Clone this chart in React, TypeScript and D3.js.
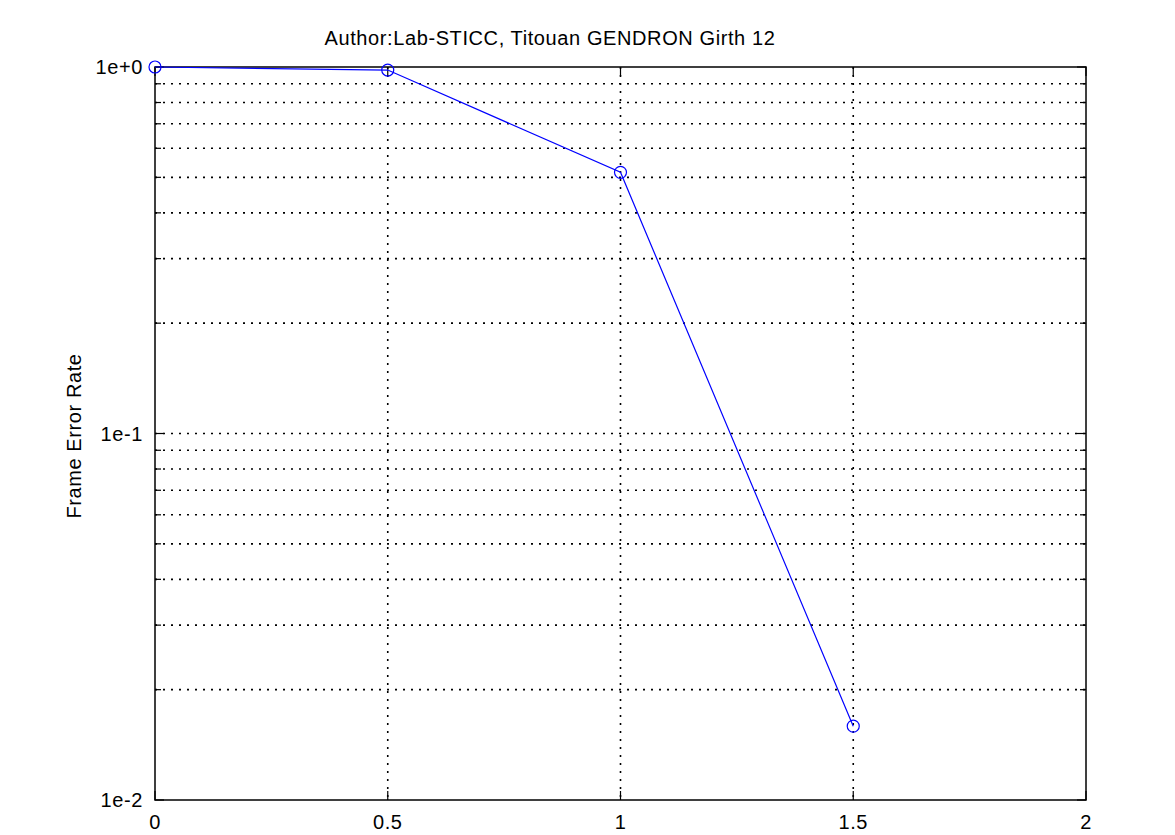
import React, { useEffect, useRef } from "react";
import * as d3 from "d3";

const snrValues = [0, 0.5, 1, 1.5];
const ferValues = [1.0, 0.981, 0.516, 0.0159];
const xTicks = [0, 0.5, 1, 1.5, 2];
const yMajorTicks = [1e-2, 1e-1, 1];
const yTickLabels = ["1e-2", "1e-1", "1e+0"];
const titleText = "Author:Lab-STICC, Titouan GENDRON Girth 12";
const yLabelText = "Frame Error Rate";

export default function App() {
  const ref = useRef<SVGSVGElement>(null);
  useEffect(() => {
    const svg = d3.select(ref.current);
    svg.selectAll("*").remove();
    const L = 155, R = 1086, T = 67, B = 800;
    const x = d3.scaleLinear().domain([0, 2]).range([L, R]);
    const y = d3.scaleLog().domain([1e-2, 1]).range([B, T]);
    const font = "Liberation Sans, Arial, sans-serif";
    const fs = 20;
    const ls = "0.6px";

    const minors: number[] = [];
    for (const dec of [1e-2, 1e-1]) for (let k = 2; k <= 9; k++) minors.push(dec * k);

    const g = svg.append("g");
    const hvals = [...minors, 1e-1];
    g.selectAll("line.hg").data(hvals).enter().append("line")
      .attr("x1", L).attr("x2", R)
      .attr("y1", (d) => y(d)).attr("y2", (d) => y(d))
      .attr("stroke", "#000").attr("stroke-width", 1.6)
      .attr("stroke-dasharray", "2,6");
    g.selectAll("line.vg").data(xTicks.slice(1, -1)).enter().append("line")
      .attr("x1", (d) => x(d)).attr("x2", (d) => x(d))
      .attr("y1", T).attr("y2", B)
      .attr("stroke", "#000").attr("stroke-width", 1.6)
      .attr("stroke-dasharray", "2,6");

    const ticksG = svg.append("g").attr("stroke", "#000").attr("stroke-width", 1.2);
    xTicks.forEach((v) => {
      ticksG.append("line").attr("x1", x(v)).attr("x2", x(v)).attr("y1", B).attr("y2", B - 9);
      ticksG.append("line").attr("x1", x(v)).attr("x2", x(v)).attr("y1", T).attr("y2", T + 9);
    });
    [...yMajorTicks, ...minors].forEach((v) => {
      const len = yMajorTicks.includes(v) ? 9 : 6;
      ticksG.append("line").attr("x1", L).attr("x2", L + len).attr("y1", y(v)).attr("y2", y(v));
      ticksG.append("line").attr("x1", R).attr("x2", R - len).attr("y1", y(v)).attr("y2", y(v));
    });

    svg.append("rect").attr("x", L).attr("y", T).attr("width", R - L).attr("height", B - T)
      .attr("fill", "none").attr("stroke", "#000").attr("stroke-width", 1.5);

    svg.selectAll("text.xt").data(xTicks).enter().append("text")
      .attr("x", (d) => x(d)).attr("y", 829)
      .attr("text-anchor", "middle").attr("font-family", font).attr("font-size", fs)
      .attr("letter-spacing", ls)
      .text((d) => String(d));
    svg.selectAll("text.yt").data(yMajorTicks).enter().append("text")
      .attr("x", 143).attr("y", (d) => y(d) + 7)
      .attr("text-anchor", "end").attr("font-family", font).attr("font-size", fs)
      .attr("letter-spacing", ls)
      .text((d, i) => yTickLabels[i]);

    svg.append("text").attr("x", 550).attr("y", 44.5).attr("text-anchor", "middle")
      .attr("font-family", font).attr("font-size", fs).attr("letter-spacing", ls).text(titleText);
    svg.append("text").attr("transform", `translate(81,436) rotate(-90)`)
      .attr("text-anchor", "middle").attr("font-family", font).attr("font-size", fs)
      .attr("letter-spacing", ls)
      .text(yLabelText);

    const pts = snrValues.map((s, i) => [s, ferValues[i]] as [number, number]);
    const line = d3.line<[number, number]>().x((d) => x(d[0])).y((d) => y(d[1]));
    svg.append("path").datum(pts).attr("d", line).attr("fill", "none")
      .attr("stroke", "#0000ff").attr("stroke-width", 1.2);
    svg.selectAll("circle.pt").data(pts).enter().append("circle")
      .attr("cx", (d) => x(d[0])).attr("cy", (d) => y(d[1])).attr("r", 6)
      .attr("fill", "none").attr("stroke", "#0000ff").attr("stroke-width", 1.2);
  }, []);
  return (
    <svg ref={ref} width={1175} height={835}
      style={{ position: "absolute", left: 0, top: 0, background: "#fff" }} />
  );
}
